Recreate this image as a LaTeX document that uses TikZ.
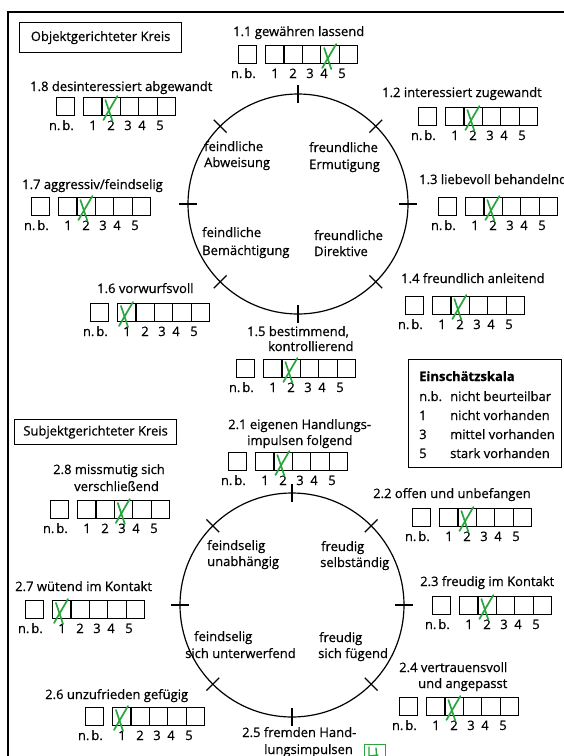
\documentclass[tikz,border=0pt]{standalone}
\usepackage{fontspec}
\setmainfont{Open Sans}[FakeBold=0.6]
\usetikzlibrary{calc}
\definecolor{penGreen}{RGB}{40,165,60}
\newcommand\formfont{\fontsize{13}{15}\selectfont}
\tikzset{
  frame/.style={line width=1.3pt},
  cell/.style={draw, line width=1.1pt, minimum width=18.4pt, minimum height=18pt,
    inner sep=0pt, anchor=north west},
  txt/.style={anchor=base west, inner sep=0pt, font=\formfont},
  num/.style={inner sep=0pt, font=\formfont},
  headbox/.style={draw, line width=1.2pt, inner sep=0pt, font=\formfont},
  ring/.style={draw, circle, line width=1.2pt, inner sep=0pt},
  ringtick/.style={line width=1.2pt},
  chk/.style={draw=penGreen, line width=1.7pt, line cap=round},
}
% one rating row: name, left edge of box 1, top edge, marked box
\newcommand\ratingrow[4]{%
  \node[cell, minimum width=18pt] (#1nb) at (#2-27,#3) {};
  \foreach \k in {1,...,5}{\node[cell] (#1c\k) at ({#2+(\k-1)*18.4},#3) {};}
  \node[num, anchor=base east] (#1lnb) at (#2-9,#3+33) {n.\kern2pt b.};
  \foreach \k/\dx in {1/10,2/28,3/45,4/59,5/77}{\node[num, anchor=base] (#1l\k) at (#2+\dx,#3+33) {\k};}
  \draw[chk] ([shift={(2,23)}]#1c#4.north west) .. controls ([shift={(9,11)}]#1c#4.north west) .. ([shift={(16,-1)}]#1c#4.north west);
  \draw[chk] ([shift={(4,3)}]#1c#4.north west) -- ([shift={(11,24)}]#1c#4.north west);
}
% circle with eight radial ticks
\newcommand\scalering[4]{%
  \node[ring, minimum size=#4pt] (#1) at (#2,#3) {};
  \foreach \a in {0,45,...,315}{\draw[ringtick] ([shift={(\a:#4/2-9)}]#1.center) -- ([shift={(\a:#4/2+9)}]#1.center);}
}
\begin{document}
\begin{tikzpicture}[x=1pt, y=-1pt]
\useasboundingbox (0,0) rectangle (564,756);
\fill[white] (0,0) rectangle (564,756);
\draw[frame] (8,800) -- (8,12) -- (600,12);

% ---------- object-directed circle ----------
\node[headbox, minimum width=162pt, minimum height=30pt, anchor=north west] (objhead) at (19,22) {Objektgerichteter Kreis};
\scalering{oring}{298}{204}{220}

\node[txt] (q1a) at (204,151) {feindliche};
\node[txt] (q1b) at (204,167) {Abweisung};
\node[txt] (q2a) at (309,152) {freundliche};
\node[txt] (q2b) at (309,169) {Ermutigung};
\node[txt] (q3a) at (202,237) {feindliche};
\node[txt] (q3b) at (202,255) {Bemächtigung};
\node[txt] (q4a) at (314,240) {freundliche};
\node[txt] (q4b) at (314,256) {Direktive};

\node[txt] (t11) at (233,36) {1.1 gewähren lassend};
\ratingrow{r11}{265}{45}{4}
\node[txt] (t12) at (382,97) {1.2 interessiert zugewandt};
\ratingrow{r12}{445}{107}{2}
\node[txt] (t13) at (419,184) {1.3 liebevoll behandelnd};
\ratingrow{r13}{465}{197}{2}
\node[txt] (t14) at (401,283) {1.4 freundlich anleitend};
\ratingrow{r14}{432}{296}{2}
\node[txt] (t15a) at (247,336) {1.5 bestimmend,};
\node[txt] (t15b) at (268,351) {kontrollierend};
\ratingrow{r15}{263}{359}{2}
\node[txt] (t16) at (97,293) {1.6 vorwurfsvoll};
\ratingrow{r16}{117}{303}{1}
\node[txt] (t17) at (22,189) {1.7 aggressiv/feindselig};
\ratingrow{r17}{58}{197}{2}
\node[txt] (t18) at (30,91) {1.8 desinteressiert abgewandt};
\ratingrow{r18}{83}{97}{2}

% ---------- scale legend ----------
\node[draw, line width=1.2pt, minimum width=153pt, minimum height=108pt, anchor=north west, inner sep=0pt] (legend) at (408,359) {};
\node[txt, font=\formfont\bfseries] (lgh) at (419,381) {Einschätzskala};
\node[txt] (lgk1) at (419,401) {n.b.};  \node[txt] (lgv1) at (450,401) {nicht beurteilbar};
\node[txt] (lgk2) at (419,420) {1};     \node[txt] (lgv2) at (450,420) {nicht vorhanden};
\node[txt] (lgk3) at (419,439) {3};     \node[txt] (lgv3) at (450,439) {mittel vorhanden};
\node[txt] (lgk4) at (419,458) {5};     \node[txt] (lgv4) at (450,458) {stark vorhanden};

% ---------- subject-directed circle ----------
\node[headbox, minimum width=162pt, minimum height=25pt, anchor=north west] (subhead) at (14,419) {Subjektgerichteter Kreis};
\scalering{sring}{292}{605}{224}

\node[txt] (p1a) at (207,550) {feindselig};
\node[txt] (p1b) at (207,566) {unabhängig};
\node[txt] (p2a) at (321,551) {freudig};
\node[txt] (p2b) at (320,567) {selbständig};
\node[txt] (p3a) at (194,641) {feindselig};
\node[txt] (p3b) at (185,658) {sich unterwerfend};
\node[txt] (p4a) at (319,642) {freudig};
\node[txt] (p4b) at (318,658) {sich fügend};

\node[txt] (t21a) at (228,429) {2.1 eigenen Handlungs-};
\node[txt] (t21b) at (247,445) {impulsen folgend};
\ratingrow{r21}{255}{452}{2}
\node[txt] (t22) at (373,498) {2.2 offen und unbefangen};
\ratingrow{r22}{439}{508}{2}
\node[txt] (t23) at (420,586) {2.3 freudig im Kontakt};
\ratingrow{r23}{459}{596}{2}
\node[txt] (t24a) at (399,672) {2.4 vertrauensvoll};
\node[txt] (t24b) at (418,688) {und angepasst};
\ratingrow{r24}{426}{697}{2}
\node[txt] (t25a) at (242,737) {2.5 fremden Hand-};
\node[txt] (t25b) at (264,754) {lungsimpulsen};
% pen mark beside item 2.5
\node[draw=penGreen, line width=1.4pt, minimum width=21pt, minimum height=18pt, anchor=north west, inner sep=0pt] (r25box) at (364,744) {};
\draw[chk, line width=1.4pt] ([shift={(5,3)}]r25box.north west) -- ([shift={(5,12)}]r25box.north west) -- ([shift={(14,11)}]r25box.north west)
  ([shift={(12,4)}]r25box.north west) -- ([shift={(13,16)}]r25box.north west);
\node[txt] (t26) at (45,699) {2.6 unzufrieden gefügig};
\ratingrow{r26}{112}{707}{1}
\node[txt] (t27) at (15,591) {2.7 wütend im Kontakt};
\ratingrow{r27}{52}{600}{1}
\node[txt] (t28a) at (53,474) {2.8 missmutig sich};
\node[txt] (t28b) at (74,491) {verschließend};
\ratingrow{r28}{77}{500}{3}
\end{tikzpicture}
\end{document}
